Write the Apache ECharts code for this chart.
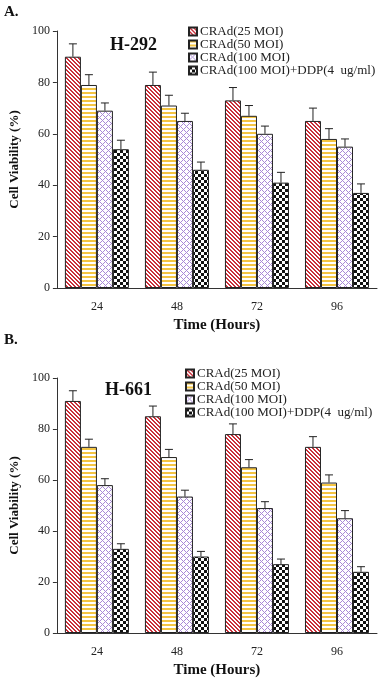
<!DOCTYPE html>
<html>
<head>
<meta charset="utf-8">
<script src="https://cdn.jsdelivr.net/npm/echarts@6/dist/echarts.min.js"></script>
<style>
  html, body { margin: 0; padding: 0; background: #fff; }
  #chart { width: 383px; height: 679px; }
</style>
</head>
<body>
<div id="chart"></div>
<script>
// time points
const categories = ['24', '48', '72', '96']
const seriesNames = ['CRAd(25 MOI)', 'CRAd(50 MOI)', 'CRAd(100 MOI)', 'CRAd(100 MOI)+DDP(4  ug/ml)']

// panel A, H-292
const a25 = [90, 79, 73, 65]
const a25Err = [5, 5, 5, 5]
const a50 = [79, 71, 67, 58]
const a50Err = [4, 4, 4, 4]
const a100 = [69, 65, 60, 55]
const a100Err = [3, 3, 3, 3]
const aDdp = [54, 46, 41, 37]
const aDdpErr = [3.5, 3, 4, 3.5]

// panel B, H-661
const b25 = [91, 85, 78, 73]
const b25Err = [4, 4, 4, 4]
const b50 = [73, 69, 65, 59]
const b50Err = [3, 3, 3, 3]
const b100 = [58, 53.5, 49, 45]
const b100Err = [2.5, 2.5, 2.5, 3]
const bDdp = [33, 30, 27, 24]
const bDdpErr = [2, 2, 2, 2]

const yTicks = [0, 20, 40, 60, 80, 100]

const serif = 'Liberation Serif'

// hatch fills
function makePattern(size, fn) {
    const c = document.createElement('canvas')
    c.width = size
    c.height = size
    const ctx = c.getContext('2d')
    ctx.fillStyle = '#fff'
    ctx.fillRect(0, 0, size, size)
    for (let x = 0; x < size; x++) {
        for (let y = 0; y < size; y++) {
            const col = fn(x, y)
            if (col) {
                ctx.fillStyle = col
                ctx.fillRect(x, y, 1, 1)
            }
        }
    }
    return { image: c, repeat: 'repeat' }
}
const patterns = [
    makePattern(4, (x, y) => ((x - y + 8) % 4 < 2 ? '#c92f3a' : null)),
    makePattern(4, (x, y) => (y % 4 < 2 ? '#f4c542' : null)),
    makePattern(6, (x, y) => ((x + y) % 6 === 0 || (x - y + 12) % 6 === 0 ? '#a98ad6' : null)),
    makePattern(6, (x, y) => ((Math.floor(x / 3) + Math.floor(y / 3)) % 2 === 0 ? '#111' : null)),
]

const panels = [
    { vals: [a25, a50, a100, aDdp], errs: [a25Err, a50Err, a100Err, aDdpErr] },
    { vals: [b25, b50, b100, bDdp], errs: [b25Err, b50Err, b100Err, bDdpErr] },
]

const series = []
panels.forEach((p, pi) => {
    p.vals.forEach((v, si) => {
        series.push({
            name: seriesNames[si],
            type: 'bar',
            xAxisIndex: pi,
            yAxisIndex: pi,
            barGap: '0%',
            barCategoryGap: '20%',
            itemStyle: { color: patterns[si], borderColor: '#222', borderWidth: 1 },
            data: v
        })
    })
    // error bars, one custom series per bar series
    p.vals.forEach((v, si) => {
        series.push({
            name: 'err' + pi + si,
            type: 'custom',
            xAxisIndex: pi,
            yAxisIndex: pi,
            z: 5,
            encode: { x: 0, y: 1 },
            data: v.map((val, i) => [i, val, p.errs[si][i]]),
            renderItem: (params, api) => {
                const i = api.value(0)
                const val = api.value(1)
                const e = api.value(2)
                const bw = api.size([1, 0])[0] * 0.8 / 4
                const off = (si - 1.5) * bw
                const base = api.coord([i, val])
                const top = api.coord([i, val + e])
                const x = base[0] + off
                const st = { stroke: '#222', lineWidth: 1 }
                return {
                    type: 'group',
                    children: [
                        { type: 'line', shape: { x1: x, y1: base[1], x2: x, y2: top[1] }, style: st },
                        { type: 'line', shape: { x1: x - 4, y1: top[1], x2: x + 4, y2: top[1] }, style: st }
                    ]
                }
            }
        })
    })
})

function xAxis(gi) {
    return {
        type: 'category',
        gridIndex: gi,
        data: categories,
        name: 'Time (Hours)',
        nameLocation: 'middle',
        nameGap: 30,
        nameTextStyle: { fontFamily: serif, fontWeight: 'bold', fontSize: 15, color: '#111' },
        axisLine: { lineStyle: { color: '#333' } },
        axisTick: { length: 5, lineStyle: { color: '#333' } },
        axisLabel: { fontFamily: serif, fontSize: 12, color: '#222', margin: 13 }
    }
}
function yAxis(gi) {
    return {
        type: 'value',
        gridIndex: gi,
        min: 0,
        max: 100,
        interval: 20,
        name: 'Cell Viability (%)',
        nameLocation: 'middle',
        nameGap: 33,
        nameTextStyle: { fontFamily: serif, fontWeight: 'bold', fontSize: 13, color: '#111' },
        splitLine: { show: false },
        axisLine: { show: true, lineStyle: { color: '#333' } },
        axisTick: { show: true, length: 4, lineStyle: { color: '#333' } },
        axisLabel: {
            fontFamily: serif, fontSize: 12, color: '#222', margin: 7,
            formatter: v => (yTicks.indexOf(v) >= 0 ? String(v) : '')
        }
    }
}
function legend(left, top) {
    return {
        orient: 'vertical',
        left: left,
        top: top,
        data: seriesNames,
        icon: 'rect',
        itemWidth: 8,
        itemHeight: 8,
        itemGap: 0,
        selectedMode: false,
        textStyle: { fontFamily: serif, fontSize: 13, lineHeight: 13, color: '#222', padding: [0, 0, 0, -2] }
    }
}

const option = {
    animation: false,
    grid: [
        { left: 48, top: 31, width: 329, height: 257 },
        { left: 46, top: 378, width: 331, height: 259 }
    ],
    xAxis: [xAxis(0), xAxis(1)],
    yAxis: [yAxis(0), yAxis(1)],
    legend: [legend(183, 20), legend(180, 362)],
    graphic: [
        { type: 'text', left: 4, top: 5, style: { text: 'A.', font: 'bold 15px "Liberation Serif"', fill: '#111' } },
        { type: 'text', left: 4, top: 333, style: { text: 'B.', font: 'bold 15px "Liberation Serif"', fill: '#111' } },
        { type: 'text', left: 110, top: 36, style: { text: 'H-292', font: 'bold 18px "Liberation Serif"', fill: '#111' } },
        { type: 'text', left: 105, top: 381, style: { text: 'H-661', font: 'bold 18px "Liberation Serif"', fill: '#111' } }
    ],
    series: series
}

const chart = echarts.init(document.getElementById('chart'))
chart.setOption(option)
window.addEventListener('resize', () => chart.resize())
</script>
</body>
</html>
